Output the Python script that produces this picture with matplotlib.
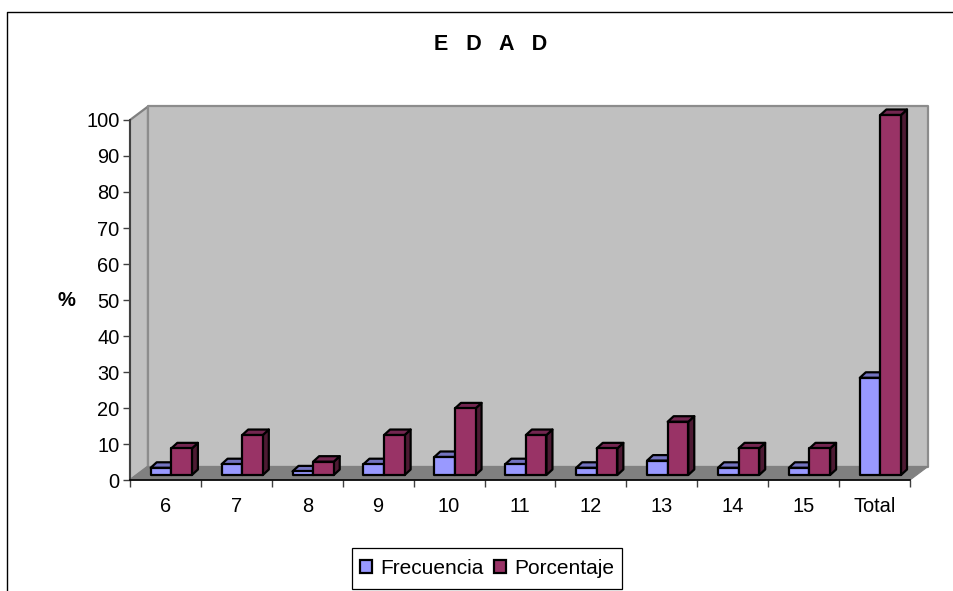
import matplotlib.pyplot as plt
from matplotlib.patches import Polygon, Patch, Rectangle

plt.rcParams['font.family'] = ['Liberation Sans', 'DejaVu Sans']

categories = ["6", "7", "8", "9", "10", "11", "12", "13", "14", "15", "Total"]
frecuencia = [2, 3, 1, 3, 5, 3, 2, 4, 2, 2, 27]
porcentaje = [7.4, 11.1, 3.7, 11.1, 18.5, 11.1, 7.4, 14.8, 7.4, 7.4, 100]

W, H = 954, 591
fig = plt.figure(figsize=(W / 100, H / 100), dpi=100)

# front plane of the plot, in pixels
left, right, top, bottom = 130, 910, 120, 480
ax = fig.add_axes([left / W, 1 - bottom / H, (right - left) / W, (bottom - top) / H])
ax.set_xlim(0, 11)
ax.set_ylim(0, 100)
ax.patch.set_visible(False)

px = 11 / (right - left)
py = 100 / (bottom - top)

# depth of walls
wx, wy = 18 * px, 13.5 * py


def poly(pts, fc, ec, lw, z=1):
    ax.add_patch(Polygon(pts, closed=True, facecolor=fc, edgecolor=ec, linewidth=lw,
                         zorder=z, clip_on=False, joinstyle='round'))


# walls and floor
poly([(0, 0), (wx, wy), (wx, 100 + wy), (0, 100)], "#c0c0c0", "#808080", 1.6)
poly([(wx, wy), (11 + wx, wy), (11 + wx, 100 + wy), (wx, 100 + wy)], "#c0c0c0", "#8c8c8c", 1.6)
poly([(0, 0), (11, 0), (11 + wx, wy), (wx, wy)], "#808080", "#808080", 0.8)

# bars
bar_w = 20.6 * px
bar_off = 0.292
base_y = 5 * py
dx, dy = 6 * px, 5.5 * py


def bar3d(x, v, front, lid, side, z):
    y0 = base_y
    y1 = base_y + v
    poly([(x + bar_w, y0), (x + bar_w + dx, y0 + dy), (x + bar_w + dx, y1 + dy), (x + bar_w, y1)], side, "black", 1.6, z)
    poly([(x, y1), (x + dx, y1 + dy), (x + bar_w + dx, y1 + dy), (x + bar_w, y1)], lid, "black", 1.6, z)
    poly([(x, y0), (x + bar_w, y0), (x + bar_w, y1), (x, y1)], front, "black", 1.6, z)


for i in range(len(categories)):
    x = i + bar_off
    bar3d(x, frecuencia[i], "#9999ff", "#7373c0", "#4d4d80", 3 + 2 * i)
    bar3d(x + bar_w, porcentaje[i], "#993366", "#732650", "#4d1a33", 4 + 2 * i)

# axes
for s in ["top", "right"]:
    ax.spines[s].set_visible(False)
ax.spines["left"].set_color("#404040")
ax.spines["left"].set_linewidth(1.4)
ax.spines["left"].set_zorder(40)
ax.spines["bottom"].set_color("black")
ax.spines["bottom"].set_linewidth(1.2)
ax.spines["bottom"].set_zorder(40)

ax.set_yticks(range(0, 101, 10))
ax.tick_params(axis="y", labelsize=14.4, length=5, width=1, color="#404040", pad=2.5)
ax.set_xticks(range(12))
ax.set_xticklabels([])
ax.set_xticks([i + 0.5 for i in range(11)], minor=True)
ax.set_xticklabels(categories, minor=True)
ax.tick_params(axis="x", which="major", length=5, width=1, color="#404040")
ax.tick_params(axis="x", which="minor", length=0, labelsize=14.4, pad=12)

fig.text(66 / W, 1 - 300 / H, "%", fontsize=14.5, fontweight="bold", ha="center", va="center")
fig.text(491 / W, 1 - 45 / H, "E   D   A   D", fontsize=15.5, fontweight="bold", ha="center", va="center")

# legend, its box is drawn separately to get the height right
fig.add_artist(Rectangle((352.5 / W, 1 - 589 / H), 270 / W, 41 / H, transform=fig.transFigure,
                         facecolor="white", edgecolor="black", linewidth=0.9))
handles = [Patch(facecolor="#9999ff", edgecolor="black", linewidth=1.6, label="Frecuencia"),
           Patch(facecolor="#993366", edgecolor="black", linewidth=1.6, label="Porcentaje")]
leg = fig.legend(handles=handles, ncol=2, loc="center", bbox_to_anchor=(487 / W, 1 - 568 / H),
                 fontsize=15, frameon=False,
                 handlelength=0.6, handleheight=0.6, handletextpad=0.38, columnspacing=0.48,
                 borderpad=0.3, borderaxespad=0)
leg.set_zorder(50)

# outer chart border, cut off at right and bottom
fig.add_artist(plt.Line2D([7.5 / W, 7.5 / W, 1], [0, 1 - 12 / H, 1 - 12 / H], color="black", linewidth=1.0))

fig.savefig("out.png", dpi=100)
